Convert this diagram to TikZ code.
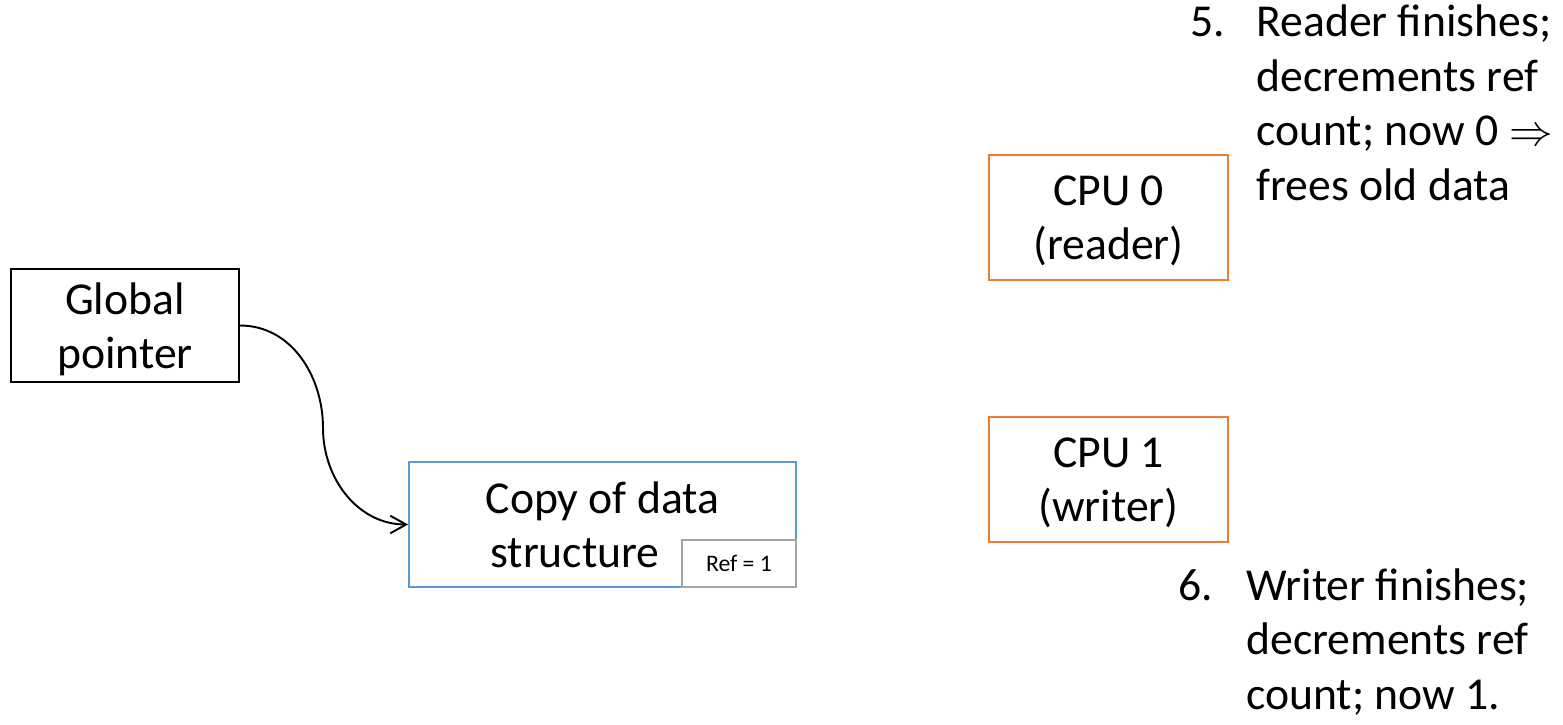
\documentclass[tikz,border=0pt]{standalone}
\usepackage{fontspec}
\setmainfont{Carlito}
\usetikzlibrary{arrows.meta}

\definecolor{cpuorange}{HTML}{ED7D31}
\definecolor{copyblue}{HTML}{5B9BD5}
\definecolor{refgray}{HTML}{A5A5A5}

\begin{document}
\begin{tikzpicture}[x=0.02cm,y=-0.02cm,
  every node/.style={font=\fontsize{26}{31}\selectfont},
  box/.style={draw, line width=1.1pt, align=center, inner sep=0pt, text depth=0pt},
  steptext/.style={anchor=base west, inner sep=0pt, align=left}]
\useasboundingbox (0,0) rectangle (1563,724);

\node[box, minimum width=4.56cm, minimum height=2.26cm] (gp) at (125,325.5) {Global\\pointer};
\node[box, draw=copyblue, minimum width=7.74cm, minimum height=2.5cm] (copy) at (602.5,524.5) {Copy of data\\structure\hspace*{1.1cm}};
\node[box, draw=refgray, fill=white, minimum width=2.28cm, minimum height=0.94cm, font=\fontsize{13.5}{16}\selectfont] (ref) at (739,563.5) {Ref = 1};

\node[box, draw=cpuorange, minimum width=4.78cm, minimum height=2.5cm] (cpu0) at (1108.5,217.5) {CPU 0\\(reader)};
\node[box, draw=cpuorange, minimum width=4.78cm, minimum height=2.5cm] (cpu1) at (1108.5,479.5) {CPU 1\\(writer)};

% pointer to the copy
\coordinate (bend) at (323,428);
\draw[line width=1.1pt, -{Straight Barb[length=9pt,width=10pt]}] (gp.east) to[out=0,in=90] (bend) to[out=-90,in=180] (copy.west);

% steps (base of a multi-line node is its last line)
\node[steptext] (num5) at (1190,36) {5.};
\node[steptext] (step5) at (1256,200) {Reader finishes;\\decrements ref\\count; now 0 $\Rightarrow$\\frees old data};
\node[steptext] (num6) at (1178,600) {6.};
\node[steptext] (step6) at (1246,709) {Writer finishes;\\decrements ref\\count; now 1.};
\end{tikzpicture}
\end{document}
